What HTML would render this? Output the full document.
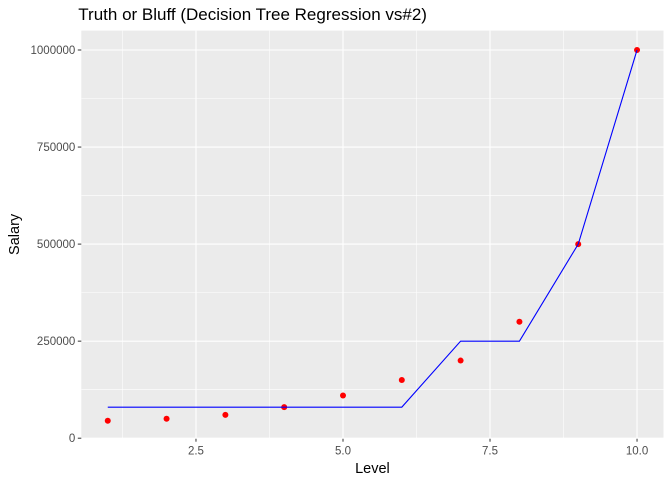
<!DOCTYPE html>
<html><head><meta charset="utf-8">
<style>
body{margin:0;background:#fff;}
svg text{font-family:"Liberation Sans",sans-serif;}
</style></head>
<body>
<svg id="chart" width="672" height="480" xmlns="http://www.w3.org/2000/svg"></svg>
<script>
const levels=[1,2,3,4,5,6,7,8,9,10];
const salaries=[45000,50000,60000,80000,110000,150000,200000,300000,500000,1000000];
const predLevels=[1,2,3,4,5,6,7,8,9,10];
const predicted=[80000,80000,80000,80000,80000,80000,250000,250000,500000,1000000];
const xTicks=[2.5,5.0,7.5,10.0];
const xTickLabels=["2.5","5.0","7.5","10.0"];
const yTicks=[0,250000,500000,750000,1000000];
const yTickLabels=["0","250000","500000","750000","1000000"];

const ns="http://www.w3.org/2000/svg";
const svg=document.getElementById('chart');
const L=81.3,R=663.5,T=30.6,B=438.2;
const xMin=0.55,xMax=10.45,yMin=0,yMax=1050000;
const sx=v=>L+(v-xMin)/(xMax-xMin)*(R-L);
const sy=v=>B-(v-yMin)/(yMax-yMin)*(B-T);
function mk(tag,attrs){const e=document.createElementNS(ns,tag);for(const k in attrs)e.setAttribute(k,attrs[k]);svg.appendChild(e);return e;}

let bg=mk('rect',{x:L,y:T,width:R-L,height:B-T,fill:'#ebebeb'});


for(let i=0;i<xTicks.length+1;i++){
  const v=(i===0?xTicks[0]-1.25:xTicks[i-1]+1.25);
  if(v>xMin&&v<xMax){const g=mk('line',{x1:sx(v),x2:sx(v),y1:T,y2:B,stroke:'#fff','stroke-width':0.55});
  }
}
for(let i=0;i<yTicks.length;i++){
  const v=yTicks[i]+125000;
  if(v<yMax){const g=mk('line',{x1:L,x2:R,y1:sy(v),y2:sy(v),stroke:'#fff','stroke-width':0.55});
  }
}
xTicks.forEach((v,i)=>{
  const g=mk('line',{x1:sx(v),x2:sx(v),y1:T,y2:B,stroke:'#fff','stroke-width':1.1});
  
  const t=mk('line',{x1:sx(v),x2:sx(v),y1:B,y2:B+3.5,stroke:'#333','stroke-width':1});
  
  const l=mk('text',{x:sx(v),y:B+16.5,'text-anchor':'middle','font-size':11.5,fill:'#4d4d4d'});
  l.textContent=xTickLabels[i];
  
});
yTicks.forEach((v,i)=>{
  const g=mk('line',{x1:L,x2:R,y1:sy(v),y2:sy(v),stroke:'#fff','stroke-width':1.1});
  
  const t=mk('line',{x1:L-3.5,x2:L,y1:sy(v),y2:sy(v),stroke:'#333','stroke-width':1});
  
  const l=mk('text',{x:L-6,y:sy(v)+4,'text-anchor':'end','font-size':11.5,fill:'#4d4d4d'});
  l.textContent=yTickLabels[i];
  
});
salaries.forEach((s,i)=>{
  const c=mk('circle',{cx:sx(levels[i]),cy:sy(s),r:3,fill:'#ff0000'});
  
});
const p=mk('polyline',{points:predicted.map((v,i)=>sx(predLevels[i])+','+sy(v)).join(' '),fill:'none',stroke:'#0000ff','stroke-width':1.1});


let tt=mk('text',{x:L-3,y:20,'font-size':17,fill:'#000'});tt.textContent='Truth or Bluff (Decision Tree Regression vs#2)';

let xt=mk('text',{x:(L+R)/2,y:473,'text-anchor':'middle','font-size':14.5,fill:'#000'});xt.textContent='Level';

let yt=mk('text',{x:0,y:0,'text-anchor':'middle','font-size':14.5,fill:'#000',transform:`translate(19,${(T+B)/2}) rotate(-90)`});yt.textContent='Salary';

</script>
</body></html>
